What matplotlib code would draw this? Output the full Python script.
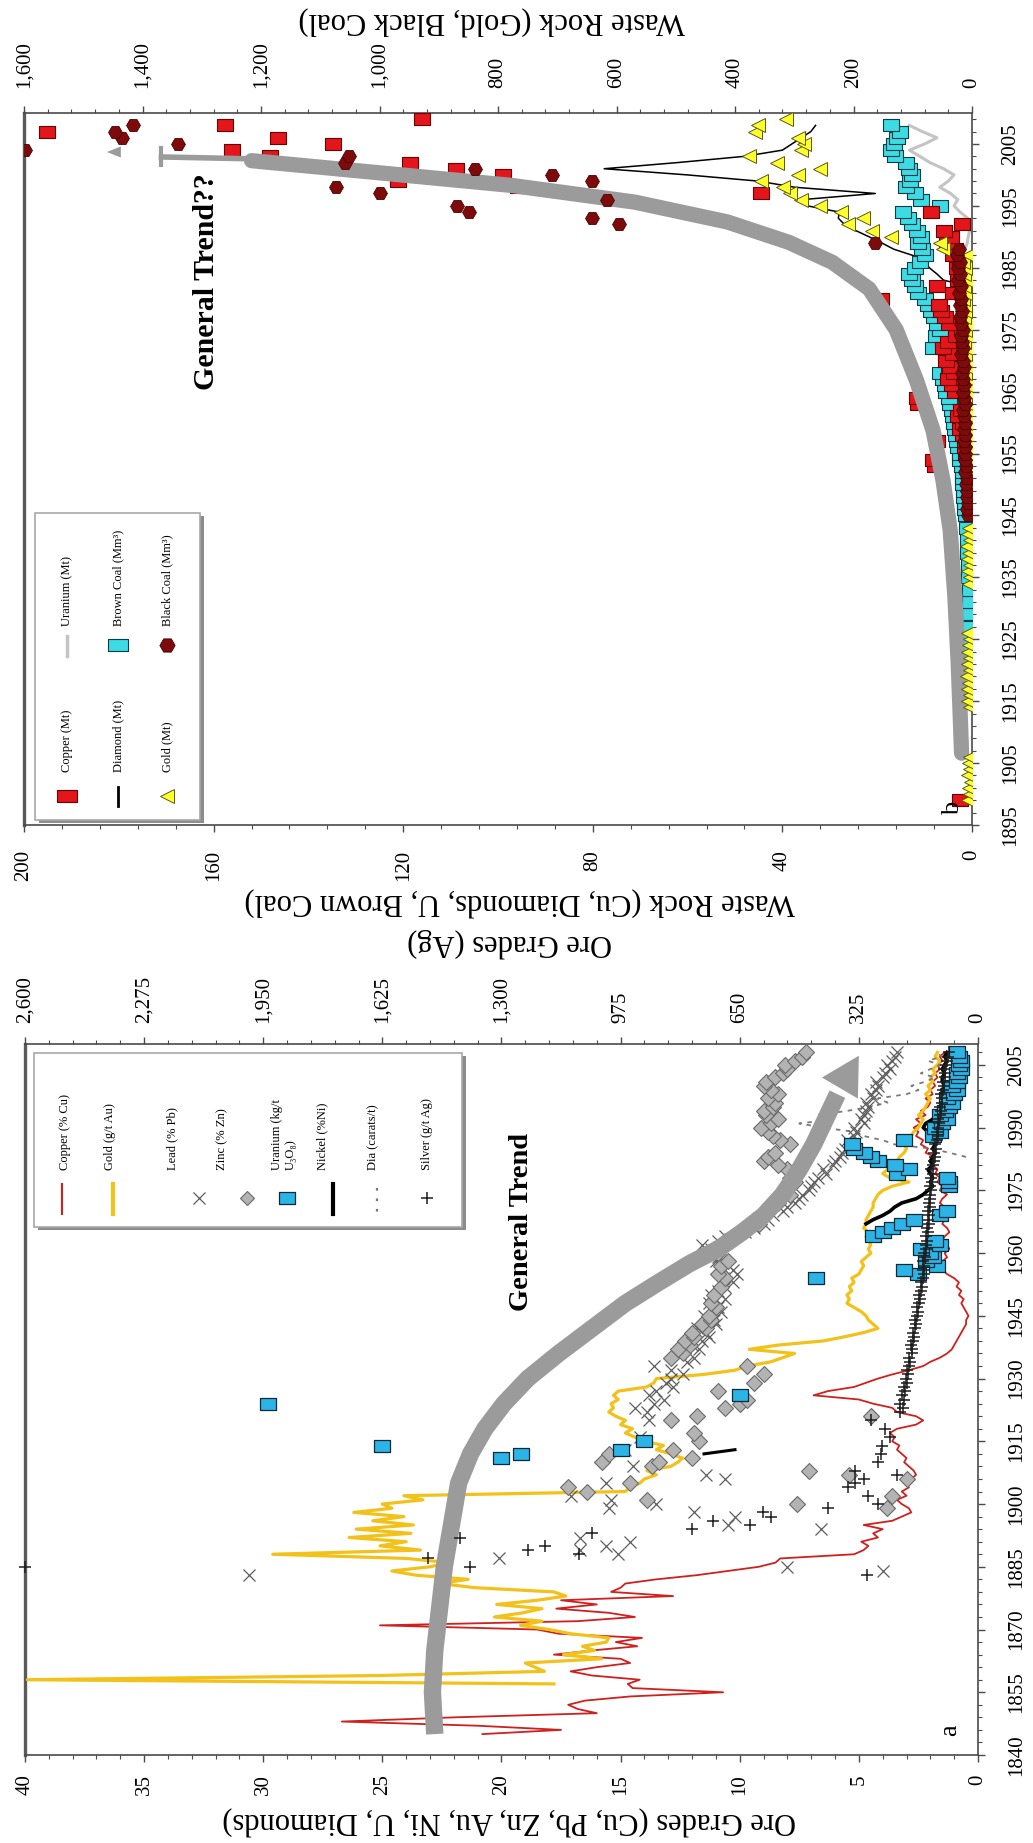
import matplotlib
matplotlib.use("Agg")
import numpy as np
import matplotlib.pyplot as plt
from matplotlib.lines import Line2D
from matplotlib.patches import Rectangle
from matplotlib.ticker import FixedLocator, MultipleLocator, FuncFormatter

W, H = 1033, 1843
plt.rcParams["font.family"] = ["Liberation Serif", "DejaVu Serif"]

# ---------------- panel a: ore grades ----------------
cu_year = list(range(1845, 2009))
cu_grade = [20.8, 17.5, 21.0, 26.7, 22.0, 16.0, 16.8, 17.2, 16.5, 14.6,
            10.7, 14.5, 14.7, 14.2, 16.2, 17.1, 16.0, 14.6, 15.0, 17.8,
            16.2, 14.3, 15.2, 14.1, 17.6, 18.5, 25.1, 16.8, 14.4, 15.5,
            17.7, 16.0, 17.5, 12.8, 15.4, 15.0, 14.8, 13.5, 11.8, 10.5,
            9.2, 8.5, 8.3, 5.2, 4.8, 4.6, 4.9, 4.2, 4.4, 4.0,
            4.8, 3.6, 3.2, 2.8, 2.9, 3.2, 3.4, 3.0, 3.2, 2.9,
            3.1, 2.8, 2.6, 2.7, 2.9, 3.1, 3.0, 3.2, 3.4, 3.3,
            3.6, 3.5, 3.7, 3.4, 2.6, 2.3, 2.6, 3.4, 3.6, 4.4,
            5.0, 6.9, 6.3, 5.2, 4.7, 4.2, 3.6, 2.9, 2.3, 2.0,
            1.6, 1.3, 1.1, 1.0, 0.9, 0.8, 0.7, 0.6, 0.5, 0.5,
            0.4, 0.5, 0.6, 0.7, 0.6, 0.8, 0.7, 0.9, 0.8, 1.0,
            1.3, 1.5, 1.4, 1.5, 1.3, 1.4, 1.2, 1.3, 1.5, 1.4,
            1.2, 1.3, 1.5, 1.4, 1.3, 1.5, 1.4, 1.6, 1.5, 1.3,
            1.6, 1.5, 1.7, 1.6, 1.8, 1.7, 1.9, 2.0, 1.8, 2.2,
            2.1, 2.4, 2.3, 2.6, 2.5, 2.7, 2.4, 2.6, 2.2, 2.4,
            2.1, 2.0, 2.2, 1.9, 2.0, 1.8, 1.9, 1.7, 1.8, 1.6,
            1.7, 1.5, 1.6, 1.4]

au_year = list(range(1857, 2009))
au_grade = [17.8, 39.9, 25.1, 18.2, 18.6, 19.0, 15.8, 17.4, 16.1, 16.6,
            15.6, 15.5, 17.1, 18.0, 19.2, 18.3, 20.3, 19.1, 18.3, 20.2,
            18.5, 17.3, 17.8, 21.1, 22.6, 21.4, 23.6, 24.6, 23.0, 22.2,
            24.0, 29.6, 23.4, 25.1, 24.0, 26.4, 23.8, 26.1, 23.7, 25.4,
            24.1, 26.2, 24.6, 25.0, 23.3, 24.1, 14.8, 14.6, 14.2, 14.0,
            13.5, 13.9, 12.9, 12.6, 12.4, 12.9, 13.5, 13.2, 14.0, 14.4,
            14.8, 14.5, 15.0, 14.8, 15.2, 15.5, 15.3, 15.4, 15.1, 15.3,
            15.1, 13.9, 13.6, 13.5, 11.5, 10.2, 9.7, 8.7, 8.2, 7.7,
            9.6, 8.4, 6.5, 5.6, 4.8, 4.2, 4.4, 4.6, 4.7, 4.9,
            5.2, 5.5, 5.4, 5.5, 5.3, 5.4, 5.2, 5.3, 5.0, 4.9,
            4.8, 4.9, 4.7, 4.5, 4.6, 4.5, 4.6, 4.7, 4.6, 4.8,
            4.7, 4.7, 4.6, 4.5, 4.4, 4.4, 4.3, 4.2, 4.0, 3.6,
            2.9, 3.7, 4.0, 3.8, 3.6, 3.4, 3.3, 3.1, 3.0, 3.1,
            2.9, 2.8, 2.7, 2.5, 2.4, 2.3, 2.5, 2.3, 2.2, 2.1,
            2.0, 2.2, 2.0, 2.1, 1.9, 2.0, 1.8, 1.9, 1.7, 1.6,
            1.8, 1.7]

pb_year = [1883, 1884, 1885, 1887, 1888, 1889, 1890, 1891, 1892, 1894,
           1895, 1897, 1898, 1899, 1900, 1901, 1902, 1905, 1906, 1907,
           1909, 1913, 1916, 1920] + list(range(1922, 2009))
pb_grade = [30.6, 4.0, 8.0, 20.1, 15.1, 16.7, 15.6, 14.6, 16.7, 6.6,
            10.5, 10.2, 11.9, 15.5, 13.5, 15.4, 17.1, 15.6, 10.6, 11.4,
            14.5, 14.8, 14.2, 13.8,
            13.9, 14.4, 13.6, 13.2, 13.8, 13.5, 12.8, 13.1, 12.9, 12.4,
            12.9, 13.6, 12.2, 11.9, 12.5, 11.7, 12.0, 11.6, 11.3, 11.4,
            11.8, 11.0, 11.1, 11.5, 10.8, 10.9, 11.3, 10.6, 11.2, 10.9,
            10.6, 10.3, 10.7, 10.1, 10.3, 10.8, 11.0, 10.9, 11.4, 11.2,
            11.6, 10.9, 10.6, 9.8, 9.4, 9.0, 8.8, 8.6, 8.2, 8.0,
            7.7, 7.5, 7.4, 7.1, 7.0, 6.9, 6.7, 6.4, 6.5, 6.1,
            6.0, 5.8, 5.7, 5.6, 5.3, 5.5, 5.2, 5.1, 5.2, 4.8,
            4.9, 4.8, 4.7, 4.6, 4.7, 4.4, 4.5, 4.3, 4.2, 4.3,
            4.0, 3.9, 3.7, 3.8, 3.6, 3.5, 3.4]

zn_year = [1899, 1900, 1901, 1902, 1903, 1904, 1905, 1906, 1907, 1908,
           1909, 1910, 1910, 1911, 1912, 1913, 1915, 1917, 1920, 1921,
           1921, 1923, 1924, 1925, 1927, 1929, 1931, 1933, 1935, 1936,
           1937, 1938, 1939, 1940, 1941, 1942, 1943, 1944, 1945, 1947,
           1948, 1950, 1952, 1954, 1955, 1957, 1958, 1960, 1961, 1963,
           1964, 1966, 1967, 1968, 1970, 1971, 1972, 1974, 1975, 1977,
           1978, 1980, 1981, 1982, 1983, 1984, 1986, 1987, 1988, 1989,
           1990, 1991, 1992, 1993, 1994, 1995, 1996, 1997, 1998, 1999,
           2000, 2001, 2002, 2003, 2004, 2005, 2006, 2007, 2008]
zn_grade = [3.8, 7.6, 13.9, 3.6, 16.4, 17.2, 14.6, 3.0, 5.4, 7.1,
            13.7, 13.4, 15.8, 12.0, 15.5, 12.8, 11.7, 11.9, 12.9, 4.5,
            11.8, 10.6, 10.0, 9.7, 10.9, 9.4, 9.0, 9.7, 12.9, 12.4,
            12.6, 12.1, 12.3, 11.9, 12.0, 11.4, 11.6, 11.2, 11.3, 11.0,
            11.2, 11.1, 10.8, 10.6, 10.9, 10.8, 10.5, 10.9, 11.1, 10.6,
            10.2, 9.8, 9.2, 9.4, 8.8, 8.6, 8.4, 7.9, 8.1, 7.7,
            7.9, 8.0, 8.4, 9.0, 8.8, 8.5, 7.9, 8.3, 8.6, 8.8,
            9.1, 8.7, 8.4, 8.9, 9.0, 8.6, 8.5, 8.8, 8.4, 8.7,
            9.0, 8.9, 8.5, 8.2, 8.0, 8.1, 7.7, 7.4, 7.2]

u_year = [1911, 1912, 1913, 1914, 1915, 1924, 1926, 1954, 1955, 1956,
          1957, 1958, 1959, 1960, 1961, 1962, 1963, 1964, 1965, 1966,
          1967, 1968, 1969, 1970, 1976, 1977, 1978, 1979, 1980, 1981,
          1982, 1983, 1984, 1985, 1986, 1987, 1988, 1989, 1990, 1991,
          1992, 1993, 1994, 1995, 1996, 1997, 1998, 1999, 2000, 2001,
          2002, 2003, 2004, 2005, 2006, 2007, 2008]
u_grade = [20.0, 19.2, 15.0, 25.0, 14.0, 29.8, 10.0, 6.8, 2.5, 3.1,
           1.7, 2.2, 1.9, 2.0, 2.4, 1.6, 1.8, 4.4, 4.0, 3.6,
           3.2, 2.7, 1.6, 1.3, 1.2, 1.2, 1.3, 3.4, 2.9, 3.5,
           4.2, 4.5, 4.8, 5.2, 5.3, 3.1, 1.9, 1.6, 1.8, 1.5,
           1.3, 1.6, 1.4, 1.2, 1.1, 1.3, 1.0, 0.9, 1.1, 0.9,
           0.8, 0.9, 0.7, 0.8, 0.7, 0.8, 0.9]

ni_year = [1912, 1913] + list(range(1967, 2009))
ni_grade = [11.5, 10.2,
            4.7, 4.4, 4.0, 3.7, 3.5, 3.2, 2.6, 2.3, 2.1, 1.9,
            2.0, 1.9, 2.0, 2.1, 1.9, 2.0, 1.9, 1.8, 1.9, 1.8,
            1.9, 2.0, 2.1, 2.3, 2.2, 1.9, 1.8, 1.6, 1.5, 1.5,
            1.4, 1.4, 1.5, 1.4, 1.5, 1.5, 1.4, 1.5, 1.4, 1.3,
            1.4, 1.3]

dia_year = list(range(1983, 2009))
dia_grade = [0.5, 1.2, 2.0, 3.5, 4.0, 4.8, 5.2, 6.5, 7.5, 6.0,
             6.8, 5.5, 4.5, 3.8, 4.2, 3.0, 2.5, 2.8, 2.2, 1.8,
             2.4, 2.0, 1.6, 2.1, 1.5, 1.8]

ag_year = [1883, 1885, 1885, 1887, 1888, 1889, 1890, 1892, 1893, 1894,
           1895, 1896, 1897, 1898, 1899, 1900, 1902, 1904, 1905, 1906,
           1907, 1908, 1910, 1912, 1914, 1916, 1918, 1920] + list(range(1922, 2009))
ag_grade = [304, 2600, 1386, 1500, 1088, 1229, 1182, 1412, 1052, 779,
            623, 722, 565, 586, 408, 273, 300, 356, 336, 312,
            221, 335, 273, 265, 262, 240, 253, 293,
            214, 205, 212, 203, 208, 198, 201, 195, 197, 190,
            193, 188, 185, 187, 181, 179, 182, 176, 174, 177,
            171, 169, 172, 166, 164, 167, 160, 158, 161, 155,
            153, 156, 150, 148, 151, 146, 149, 144, 146, 141,
            143, 139, 141, 137, 139, 135, 137, 133, 136, 131,
            134, 130, 132, 128, 131, 126, 129, 124, 127, 122,
            120, 117, 119, 115, 118, 113, 110, 112, 108, 106,
            109, 104, 101, 103, 99, 97, 100, 95, 93, 96,
            91, 89, 92, 86, 84, 81, 79]

trend_a_val = [22.8, 22.9, 22.8, 22.6, 22.4, 22.1, 21.8, 21.3, 20.7, 19.9,
               18.9, 17.6, 16.2, 14.8, 13.4, 12.1, 10.9, 9.9, 9.0, 8.2,
               7.5, 6.9, 6.4, 5.9]
trend_a_year = [1845, 1855, 1865, 1875, 1885, 1895, 1905, 1912, 1918, 1924,
                1930, 1936, 1942, 1948, 1953, 1957.5, 1961, 1965, 1969, 1974,
                1980, 1986, 1992, 1998]

# ---------------- panel b: waste rock ----------------
cuw_year = [1899, 1953, 1954, 1955, 1956, 1957, 1958, 1959, 1960, 1961,
            1962, 1963, 1964, 1965, 1966, 1967, 1968, 1969, 1970, 1971,
            1972, 1973, 1974, 1975, 1976, 1977, 1978, 1979, 1980, 1981,
            1982, 1983, 1984, 1985, 1986, 1987, 1988, 1989, 1990, 1991,
            1992, 1994, 1997, 1998, 1999, 2000, 2001, 2002, 2003, 2004,
            2005, 2006, 2007, 2008, 2009]
cuw_mt = [2.5, 7.8, 8.2, 1.2, 1.5, 7.4, 2.0, 2.6, 1.8, 3.0,
          2.4, 11.4, 11.7, 3.5, 4.2, 5.0, 3.8, 4.6, 5.5, 4.0,
          6.2, 5.0, 3.4, 2.2, 4.8, 5.8, 6.5, 7.0, 19.1, 4.0,
          7.4, 3.0, 1.6, 3.1, 2.5, 4.0, 3.5, 5.2, 4.4, 6.0,
          2.2, 8.7, 44.5, 95.8, 121.1, 99.0, 108.8, 118.5, 148.0, 156.2,
          134.8, 146.5, 195.2, 157.6, 116.0]

diaw_year = list(range(1982, 2009))
diaw_mt = [0.5, 6.0, 7.4, 9.0, 10.0, 12.5, 16.5, 19.0, 21.7, 24.5,
           26.9, 28.2, 28.0, 34.7, 36.0, 20.4, 37.3, 45.1, 60.0, 77.6,
           62.0, 48.0, 40.0, 38.0, 36.0, 34.0, 33.0]

uw_year = list(range(1955, 1972)) + list(range(1976, 2009))
uw_mt = [0.5, 0.8, 1.2, 1.5, 1.0, 1.8, 2.2, 1.6, 1.2, 0.9,
         1.4, 2.0, 2.5, 1.8, 1.2, 0.8, 0.5,
         1.0, 3.8, 5.0, 6.8, 5.5, 3.8, 2.5, 2.0, 1.5, 2.5,
         3.0, 2.2, 1.5, 1.0, 0.8, 0.5, 0.4, 0.9, 2.5, 3.8,
         3.0, 4.5, 6.8, 5.0, 3.8, 6.0, 8.9, 11.0, 13.2, 10.0,
         7.4, 10.5, 13.2]

bc_year = [1921, 1923, 1925, 1927, 1929, 1931, 1933, 1935, 1937, 1939,
           1941, 1943] + list(range(1945, 2009))
bc_mm3 = [0.3, 0.3, 0.4, 0.4, 0.5, 0.5, 0.5, 0.6, 0.7, 0.8,
          0.9, 1.1,
          1.3, 1.4, 1.5, 1.6, 1.7, 1.8, 1.8, 2.0, 2.2, 2.5,
          2.6, 2.9, 3.2, 3.4, 3.6, 3.8, 4.0, 4.3, 4.6, 4.9,
          5.4, 5.7, 6.1, 6.8, 4.9, 5.2, 5.5, 8.2, 6.1, 7.5,
          6.8, 7.4, 8.0, 8.7, 9.3, 10.0, 11.3, 12.0, 12.6, 13.3,
          12.0, 11.0, 10.0, 10.6, 11.3, 10.7, 11.6, 12.6, 13.5, 14.6,
          6.8, 10.7, 12.0, 13.9, 13.0, 12.6, 13.3, 13.9, 16.2, 17.1,
          16.5, 15.8, 15.2, 17.1]

auw_year = [1899, 1900, 1901, 1902, 1903, 1904, 1905, 1906,
            1914, 1915, 1916, 1917, 1918, 1919, 1920, 1921, 1922, 1923,
            1924, 1925, 1926, 1934, 1935, 1936, 1937, 1938, 1939, 1940,
            1941, 1942, 1943] + list(range(1946, 2010))
auw_mt = [6, 3, 5, 2, 6, 4, 5, 3,
          4, 7, 3, 6, 5, 8, 4, 6, 3, 7,
          5, 4, 6, 5, 3, 7, 4, 6, 5, 8,
          4, 6, 5,
          4, 6, 5, 7, 4, 6, 8, 5, 7, 6,
          9, 5, 8, 6, 10, 7, 9, 6, 11, 8,
          10, 7, 12, 9, 8, 11, 10, 13, 9, 12,
          10, 14, 11, 12, 15, 12, 13, 10, 14, 12,
          16, 7, 49, 54, 137,
          168, 210, 184, 221, 257, 288, 307, 319, 356, 293,
          257, 329, 376, 288, 283, 293, 366, 361, 314]

blk_year = list(range(1945, 1990)) + [1992, 1993, 1994, 1995, 1996, 1997,
                                      1998, 1999, 2000, 2001, 2002, 2003,
                                      2004, 2005, 2006, 2007, 2008]
blk_mm3 = [6, 8, 7, 9, 8, 10, 9, 11, 10, 12,
           11, 12, 13, 11, 14, 12, 13, 15, 12, 14,
           16, 13, 15, 17, 14, 16, 18, 15, 17, 19,
           16, 18, 20, 17, 21, 18, 22, 19, 23, 20,
           24, 21, 26, 22, 163,
           595, 641, 849, 870, 616, 1000,
           1073, 641, 709, 839, 1058, 1052,
           1598, 1340, 1434, 1447, 1416]

trend_b_val = [2.2, 2.5, 2.9, 3.6, 4.6, 6.1, 8.2, 11.7, 16.0, 21.7,
               29.5, 38.6, 51.6, 71.1, 97.1, 123.1, 152.0]
trend_b_year = [1906.6, 1913, 1921, 1931.8, 1942.6, 1950.6, 1958.7, 1966.8,
                1975, 1981.6, 1985.9, 1989.1, 1992.4, 1995.6, 1998.3,
                2000.2, 2002.3]

# ---------------- styles ----------------
RED = "#d0201e"
GOLD = "#f2c21b"
CYAN_A = "#2db4e6"
CYAN_B = "#3ddbe3"
SQ = [(-1.5, -1), (1.5, -1), (1.5, 1), (-1.5, 1), (-1.5, -1)]
TREND = "#9b9b9b"
FRAME = "#4a4a4a"


def box(x0, x1, y0, y1):
    return [x0 / W, 1 - y1 / H, (x1 - x0) / W, (y1 - y0) / H]


def fp(x, y):
    return x / W, 1 - y / H


def frame(ax):
    for side, sp in ax.spines.items():
        sp.set_color(FRAME)
        sp.set_linewidth(1.2)
    ax.spines["left"].set_linewidth(2.4)
    ax.spines["left"].set_color("#5a5a5a")


def ticks(ax, which_axis, pad):
    ax.tick_params(axis=which_axis, which="both", direction="out", color=FRAME)
    ax.tick_params(axis=which_axis, which="major", length=5, width=1)
    ax.tick_params(axis=which_axis, which="minor", length=3, width=0.8)
    ax.tick_params(axis=which_axis, labelrotation=90, labelsize=15, pad=pad)


comma = FuncFormatter(lambda v, p: f"{int(round(v)):,}")

fig = plt.figure(figsize=(W / 100, H / 100), dpi=100)

# ---- panel a ----
axA = fig.add_axes(box(25, 978, 1044, 1755))
axA.set_xlim(40, 0)
axA.set_ylim(1840, 2010)
axA.xaxis.set_major_locator(MultipleLocator(5))
axA.xaxis.set_minor_locator(MultipleLocator(1))
axA.yaxis.set_major_locator(FixedLocator(list(range(1840, 2006, 15))))
axA.yaxis.set_minor_locator(FixedLocator(list(range(1840, 2011, 3))))
axA.yaxis.tick_right()
ticks(axA, "x", 9)
ticks(axA, "y", 16)
frame(axA)

axA.plot(cu_grade, cu_year, color=RED, lw=1.3, zorder=3)
axA.plot(au_grade, au_year, color=GOLD, lw=2.3, zorder=3)
axA.plot(dia_grade, dia_year, color="#7a7a7a", lw=1.3, ls=(0, (2.5, 3)), zorder=3)
axA.plot(pb_grade, pb_year, ls="none", marker="x", ms=9, mew=0.9,
         color="#5e5e5e", zorder=4)
axA.plot(zn_grade, zn_year, ls="none", marker="D", ms=8, mfc="#b3b3b3",
         mec="#6a6a6a", mew=0.8, zorder=4)
axA.plot(ni_grade[:2], ni_year[:2], color="black", lw=2.2, zorder=5)
axA.plot(ni_grade[2:], ni_year[2:], color="black", lw=2.6, zorder=5)
axA.plot(u_grade, u_year, ls="none", marker=SQ, ms=12, mfc=CYAN_A,
         mec="#0d2a38", mew=0.9, zorder=5)
axA.plot(trend_a_val, trend_a_year, color=TREND, lw=12.5,
         solid_capstyle="butt", zorder=6)
axA.annotate("", xy=(5.0, 2007.2), xytext=(6.05, 1997.0),
             arrowprops=dict(arrowstyle="-|>,head_length=27,head_width=15",
                             mutation_scale=1, lw=0, color=TREND,
                             shrinkA=0, shrinkB=0), zorder=6)

axA2 = axA.twiny()
axA2.set_xlim(2600, 0)
axA2.xaxis.set_major_locator(MultipleLocator(325))
axA2.xaxis.set_minor_locator(MultipleLocator(65))
axA2.xaxis.set_major_formatter(comma)
ticks(axA2, "x", 10)
for sp in axA2.spines.values():
    sp.set_visible(False)
axA2.plot(ag_grade, ag_year, ls="none", marker="+", ms=8, mew=1.1,
          color="#1e1e1e", zorder=5, clip_on=False)

# ---- panel b ----
axB = fig.add_axes(box(24, 972, 113, 825))
axB.set_xlim(200, 0)
axB.set_ylim(1895, 2010)
axB.xaxis.set_major_locator(MultipleLocator(40))
axB.xaxis.set_minor_locator(MultipleLocator(8))
axB.yaxis.set_major_locator(FixedLocator(list(range(1895, 2006, 10))))
axB.yaxis.set_minor_locator(FixedLocator(list(range(1895, 2011, 2))))
axB.yaxis.tick_right()
ticks(axB, "x", 13)
ticks(axB, "y", 16)
frame(axB)

axB.plot(uw_mt, uw_year, color="#c4c4c4", lw=2.2, zorder=2)
axB.plot(diaw_mt, diaw_year, color="black", lw=1.1, zorder=3)
axB.plot(bc_mm3, bc_year, ls="none", marker=SQ, ms=12, mfc=CYAN_B,
         mec="#0e3d47", mew=0.8, zorder=4)
axB.plot(cuw_mt, cuw_year, ls="none", marker=SQ, ms=12, mfc="#e3161b",
         mec="#6e0000", mew=0.8, zorder=4)
axB.plot(trend_b_val, trend_b_year, color=TREND, lw=11,
         solid_capstyle="round", zorder=6)
# the trend arrow ends in a narrow stem, a cross bar and a small head
axB.plot([152.0, 171.0], [2002.6, 2002.9], color=TREND, lw=4, zorder=6)
axB.plot([171.0, 171.0], [2001.6, 2004.4], color=TREND, lw=3, zorder=6)
axB.annotate("", xy=(182.5, 2003.7), xytext=(176.0, 2003.7),
             arrowprops=dict(arrowstyle="-|>,head_length=10,head_width=4",
                             mutation_scale=1, lw=0, color=TREND,
                             shrinkA=0, shrinkB=0), zorder=6)

axB2 = axB.twiny()
axB2.set_xlim(1600, 0)
axB2.xaxis.set_major_locator(MultipleLocator(200))
axB2.xaxis.set_minor_locator(MultipleLocator(40))
axB2.xaxis.set_major_formatter(comma)
ticks(axB2, "x", 13)
for sp in axB2.spines.values():
    sp.set_visible(False)
axB2.plot(auw_mt, auw_year, ls="none", marker="<", ms=10, mfc="#ffff2e",
          mec="#5a5a10", mew=0.7, zorder=4)
axB2.plot(blk_mm3, blk_year, ls="none", marker="H", ms=10, mfc="#7d0b0b",
          mec="#4a0000", mew=0.6, zorder=5)

for ax in (axA, axB):
    for lab in ax.get_yticklabels():
        lab.set_verticalalignment("center")

# ---- axis titles ----
TT = dict(rotation=180, ha="center", va="center", fontsize=22)
fig.text(*fp(492, 20), "Waste Rock (Gold, Black Coal)", **TT)
fig.text(*fp(520, 901), "Waste Rock (Cu, Diamonds, U, Brown Coal)", **TT)
fig.text(*fp(510, 943), "Ore Grades (Ag)", **TT)
fig.text(*fp(509, 1820), "Ore Grades (Cu, Pb, Zn, Au, Ni, U, Diamonds)", **TT)

fig.text(*fp(522, 1222), "General Trend", rotation=90, ha="center",
         va="center", fontsize=20.5, fontweight="bold")
fig.text(*fp(207, 282), "General Trend??", rotation=90, ha="center",
         va="center", fontsize=21.5, fontweight="bold")
fig.text(*fp(950, 1730), "a", rotation=90, ha="center", va="center", fontsize=19)
fig.text(*fp(953, 808), "b", rotation=90, ha="center", va="center", fontsize=19)


# ---- legends ----
def legend_box(x0, x1, y0, y1):
    fig.add_artist(Rectangle(fp(x0 + 4, y1 + 3), (x1 - x0) / W, (y1 - y0) / H,
                             transform=fig.transFigure, fc="#8c8c8c",
                             ec="none", zorder=5))
    fig.add_artist(Rectangle(fp(x0, y1), (x1 - x0) / W, (y1 - y0) / H,
                             transform=fig.transFigure, fc="white",
                             ec="#a8a8a8", lw=1.2, zorder=6))


def leg_line(x, y0, y1, **kw):
    xs, ys = zip(fp(x, y0), fp(x, y1))
    fig.add_artist(Line2D(xs, ys, transform=fig.transFigure, zorder=7, **kw))


def leg_mark(x, y, **kw):
    fx, fy = fp(x, y)
    fig.add_artist(Line2D([fx], [fy], ls="none", transform=fig.transFigure,
                          zorder=7, **kw))


def leg_text(x, y, s):
    fig.text(*fp(x, y), s, rotation=90, ha="center", va="bottom",
             fontsize=9, zorder=8)


legend_box(34, 462, 1053, 1227)
leg_line(62, 1184, 1214, color=RED, lw=1.5)
leg_text(65, 1170, "Copper (% Cu)")
leg_line(113, 1184, 1214, color=GOLD, lw=3)
leg_text(110, 1170, "Gold (g/t Au)")
leg_mark(199, 1198, marker="x", ms=9, mew=0.9, color="#5e5e5e")
leg_text(172, 1170, "Lead (% Pb)")
leg_mark(247, 1198, marker="D", ms=7, mfc="#b3b3b3", mec="#6a6a6a", mew=0.8)
leg_text(222, 1170, "Zinc (% Zn)")
leg_mark(287, 1198, marker=SQ, ms=12, mfc=CYAN_A, mec="#0d2a38", mew=0.9)
fig.text(*fp(284, 1170), "Uranium (kg/t\nU\u2083O\u2088)", rotation=90,
         ha="center", va="bottom", fontsize=9, multialignment="left", zorder=8)
leg_line(333, 1184, 1214, color="black", lw=3)
leg_text(322, 1170, "Nickel (%Ni)")
leg_line(377, 1188, 1212, color="#7a7a7a", lw=1.6, ls=(0, (1.2, 3.5)))
leg_text(373, 1170, "Dia (carats/t)")
leg_mark(427, 1198, marker="+", ms=9, mew=1.1, color="#1e1e1e")
leg_text(427, 1170, "Silver (g/t Ag)")

legend_box(35, 200, 513, 820)
leg_mark(67, 796, marker=SQ, ms=14, mfc="#e3161b", mec="#6e0000", mew=0.8)
leg_text(67, 772, "Copper (Mt)")
leg_line(67, 636, 656, color="#c4c4c4", lw=2.5)
leg_text(67, 626, "Uranium (Mt)")
leg_line(118, 787, 806, color="black", lw=2)
leg_text(118, 772, "Diamond (Mt)")
leg_mark(118, 645, marker=SQ, ms=14, mfc=CYAN_B, mec="#0e3d47", mew=0.8)
leg_text(118, 626, "Brown Coal (Mm\u00b3)")
leg_mark(167, 796, marker="<", ms=10, mfc="#ffff2e", mec="#5a5a10", mew=0.7)
leg_text(167, 772, "Gold (Mt)")
leg_mark(167, 645, marker="H", ms=11, mfc="#7d0b0b", mec="#4a0000", mew=0.6)
leg_text(167, 626, "Black Coal (Mm\u00b3)")

fig.savefig("out.png", dpi=100, facecolor="white")
